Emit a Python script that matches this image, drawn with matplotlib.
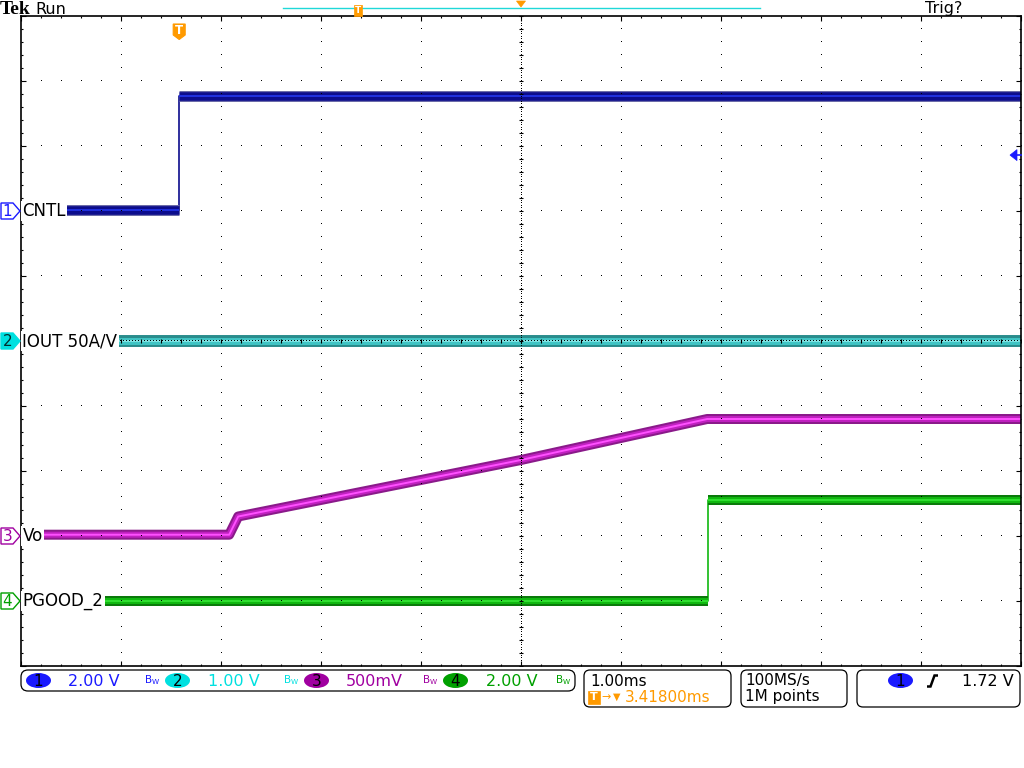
import numpy as np
import matplotlib
matplotlib.use('Agg')
import matplotlib.pyplot as plt
from matplotlib.patches import FancyBboxPatch, Ellipse, Polygon

# ---------------- data ----------------
trigger_pos_ms = 3.418          # trigger position (ms) relative to screen centre
time_per_div = 1.0              # ms/div
sample_rate_text = '100MS/s'
record_text = '1M points'
ch_names = ['CNTL', 'IOUT 50A/V', 'Vo', 'PGOOD_2']
ch_scale = [2.0, 1.0, 0.5, 2.0]             # V/div
ch_offset_div = [2, 0, -3, -4]              # ground-marker position (div)
ch_scale_text = ['2.00 V', '1.00 V', '500mV', '2.00 V']
trig_channel = 0
trig_level_v = 1.72

cntl_t = [-1.582, 0.0, 0.0, 8.418]
cntl_v = [0.03, 0.03, 3.55, 3.55]
iout_t = [-1.582, 8.418]
iout_v = [0.0, 0.0]
vo_t = [-1.582, 0.50, 0.59, 3.42, 5.28, 8.418]
vo_v = [0.01, 0.01, 0.15, 0.585, 0.90, 0.90]
pg_t = [-1.582, 5.29, 5.29, 8.418]
pg_v = [0.0, 0.0, 3.11, 3.11]

# ---------------- style ----------------
C_BLUE = '#1a1aff'
C_CYAN = '#00e0e0'
C_MAG = '#a000a0'
C_GRN = '#00a000'
C_ORG = '#ff9a00'
trace_styles = [
    (['#6a6aa8', '#0c0c8c', '#2030e0'], [7.9, 6.2, 1.4]),
    (['#2a8c8c', '#40c4c4', '#80e4e4'], [8.6, 5.0, 1.4]),
    (['#8a1a8a', '#c020c0', '#ff50ff'], [7.2, 4.3, 1.4]),
    (['#0b7a0b', '#10b810', '#30e030'], [7.2, 4.3, 1.4]),
]
ch_colors = [C_BLUE, C_CYAN, C_MAG, C_GRN]

fig = plt.figure(figsize=(10.24, 7.68), dpi=100)
fig.patch.set_facecolor('white')

ax = fig.add_axes([21 / 1024, (768 - 666) / 768, 1000 / 1024, 650 / 768])
centre = trigger_pos_ms
xlim = (centre - 5 * time_per_div, centre + 5 * time_per_div)
ax.set_xlim(*xlim)
ax.set_ylim(-5, 5)
ax.set_facecolor('white')

ov = fig.add_axes([0, 0, 1, 1])
ov.set_xlim(0, 1024)
ov.set_ylim(768, 0)
ov.axis('off')
ov.patch.set_visible(False)
ov.set_zorder(ax.get_zorder() + 1)


def to_px(t, div):
    disp = ax.transData.transform((t, div))
    return ov.transData.inverted().transform(disp)


# ---------------- traces ----------------
series = [(cntl_t, cntl_v), (iout_t, iout_v), (vo_t, vo_v), (pg_t, pg_v)]
for i, (t, v) in enumerate(series):
    t = np.asarray(t, float)
    d = np.asarray(v, float) / ch_scale[i] + ch_offset_div[i]
    cols, wids = trace_styles[i]
    ax.plot(t, d, color=cols[1], lw=1.2, zorder=2)
    tt, dd = [], []
    for k in range(len(t)):
        tt.append(t[k]); dd.append(d[k])
        if k < len(t) - 1 and t[k + 1] == t[k]:
            tt.append(np.nan); dd.append(np.nan)
    for c, w in zip(cols, wids):
        ax.plot(tt, dd, color=c, lw=w, solid_capstyle='butt', zorder=2)

# ---------------- graticule ----------------
gx = [centre + k * time_per_div for k in range(-4, 5) if k != 0]
gy = [k for k in range(-4, 5) if k != 0]
ys = np.arange(-5, 5.001, 0.2)
xs = np.arange(xlim[0], xlim[1] + 1e-6, 0.2 * time_per_div)
for x in gx:
    ax.plot(np.full_like(ys, x), ys, ',', color='black', zorder=3)
for y in gy:
    ax.plot(xs, np.full_like(xs, y), ',', color='black', zorder=3)
# centre cross
yd = np.arange(-5, 5.001, 0.04)
xd = np.arange(xlim[0], xlim[1] + 1e-6, 0.03 * time_per_div)
ax.plot(np.full_like(yd, centre), yd, ',', color='black', zorder=3)
ax.plot(xd, np.zeros_like(xd), ',', color='black', zorder=3)
ax.plot(np.full_like(ys, centre), ys, '_', color='black', ms=3.0, mew=0.8, zorder=3)
ax.plot(xs, np.zeros_like(xs), '|', color='black', ms=3.0, mew=0.8, zorder=3)

ax.set_xticks([centre + k * time_per_div for k in range(-5, 6)])
ax.set_xticks(xs, minor=True)
ax.set_yticks(range(-5, 6))
ax.set_yticks(ys, minor=True)
ax.tick_params(which='both', direction='in', top=True, right=True,
               labelbottom=False, labelleft=False, color='black', width=0.8)
ax.tick_params(which='major', length=3.5)
ax.tick_params(which='minor', length=1.6)
for s in ax.spines.values():
    s.set_linewidth(1.2)
    s.set_color('black')

# ---------------- channel markers & labels ----------------
for i in range(4):
    _, ypx = to_px(xlim[0], ch_offset_div[i])
    col = ch_colors[i]
    filled = (i == 1)
    poly = Polygon([(1, ypx - 8), (13, ypx - 8), (20, ypx), (13, ypx + 8), (1, ypx + 8)],
                   closed=True, facecolor=col if filled else 'white', edgecolor=col, lw=1.0, zorder=6)
    ov.add_patch(poly)
    ov.text(7.5, ypx + 0.5, str(i + 1), ha='center', va='center', fontsize=11,
            color='#003030' if filled else col, zorder=7)
    ov.text(22.5, ypx, ch_names[i], ha='left', va='center', fontsize=12, color='black',
            bbox=dict(facecolor='white', edgecolor='none', pad=1.0), zorder=6)

# trigger level arrow (right)
tl_div = trig_level_v / ch_scale[trig_channel] + ch_offset_div[trig_channel]
xr, ytl = to_px(xlim[1], tl_div)
ov.add_patch(Polygon([(xr - 11, ytl), (xr - 4, ytl - 5.5), (xr - 4, ytl + 5.5)], closed=True,
                     facecolor=C_BLUE, edgecolor=C_BLUE, lw=0.5, zorder=6))
ov.plot([xr - 5, xr], [ytl, ytl], color=C_BLUE, lw=1.2, zorder=6)

# trigger marker in plot (T)
xt, _ = to_px(0.0, 0)
ov.add_patch(Polygon([(xt - 6, 24), (xt + 6, 24), (xt + 6, 35), (xt, 39.5), (xt - 6, 35)],
                     closed=True, facecolor=C_ORG, edgecolor=C_ORG, lw=0.8, zorder=6))
ov.text(xt, 30.5, 'T', ha='center', va='center', fontsize=8.5, fontweight='bold', color='white', zorder=7)

# ---------------- top bar ----------------
ov.text(-0.5, 13.5, 'Tek', ha='left', va='baseline', fontsize=14, fontweight='bold',
        family='Liberation Serif', color='black')
ov.text(35, 13.5, 'Run', ha='left', va='baseline', fontsize=11.5, color='black')
ov.text(925, 13.5, 'Trig?', ha='left', va='baseline', fontsize=11.5, color='black')
ov.plot([283, 760], [8, 8], color='#20d8d8', lw=1.0)
ov.add_patch(Polygon([(354, 5), (362, 5), (362, 16), (354, 16)], closed=True,
                     facecolor=C_ORG, edgecolor=C_ORG, lw=0.5, zorder=5))
ov.text(358, 10.5, 'T', ha='center', va='center', fontsize=6.5, fontweight='bold', color='white', zorder=6)
xc, _ = to_px(centre, 0)
ov.add_patch(Polygon([(xc - 4.5, 1), (xc + 4.5, 1), (xc, 7)], closed=True,
                     facecolor=C_ORG, edgecolor=C_ORG, lw=0.5))

# ---------------- bottom status bar ----------------
def rbox(x0, y0, x1, y1, r=6):
    ov.add_patch(FancyBboxPatch((x0, y0), x1 - x0, y1 - y0,
                                boxstyle=f'round,pad=0,rounding_size={r}',
                                facecolor='white', edgecolor='black', lw=0.9))

rbox(21, 670, 575, 691, r=7)
rbox(584, 670, 731, 707)
rbox(741, 670, 847, 707)
rbox(857, 670, 1020, 707)

pill_x = [38.5, 177.5, 316.5, 455.5]
txt_x = [68, 208, 346, 486]
bw_x = [144, 283, 422, 555]
for i in range(4):
    ov.add_patch(Ellipse((pill_x[i], 680.5), 25, 15, facecolor=ch_colors[i], edgecolor='none'))
    ov.text(pill_x[i], 681, str(i + 1), ha='center', va='center', fontsize=11, color='black')
    ov.text(txt_x[i], 681, ch_scale_text[i], ha='left', va='center', fontsize=11.5, color=ch_colors[i])
    ov.text(bw_x[i], 680, r'$\mathregular{B_W}$', ha='left', va='center', fontsize=7.5,
            color=ch_colors[i])

ov.text(590, 681, f'{time_per_div:.2f}ms', ha='left', va='center', fontsize=11, color='black')
ov.add_patch(Polygon([(588, 691), (600, 691), (600, 704), (588, 704)], closed=True,
                     facecolor=C_ORG, edgecolor=C_ORG, lw=0.5))
ov.text(594, 697.5, 'T', ha='center', va='center', fontsize=8, fontweight='bold', color='white')
ov.text(601.5, 697, '→', ha='left', va='center', fontsize=8, color=C_ORG)
ov.text(612.5, 697, '▼', ha='left', va='center', fontsize=7, color=C_ORG)
ov.text(625, 697, f'{trigger_pos_ms:.5f}ms', ha='left', va='center', fontsize=11, color=C_ORG)

ov.text(745, 681, sample_rate_text, ha='left', va='center', fontsize=11, color='black')
ov.text(745, 697, record_text, ha='left', va='center', fontsize=11, color='black')

ov.add_patch(Ellipse((900.5, 680.5), 25, 15, facecolor=C_BLUE, edgecolor='none'))
ov.text(900.5, 681, str(trig_channel + 1), ha='center', va='center', fontsize=11, color='black')
ov.plot([927, 930.5, 934.5, 938], [686.5, 686.5, 675.5, 675.5], color='black', lw=1.8,
        solid_capstyle='butt', solid_joinstyle='miter')
ov.text(962, 681, f'{trig_level_v:.2f} V', ha='left', va='center', fontsize=11.5, color='black')

fig.savefig('out.png', dpi=100, facecolor='white')
